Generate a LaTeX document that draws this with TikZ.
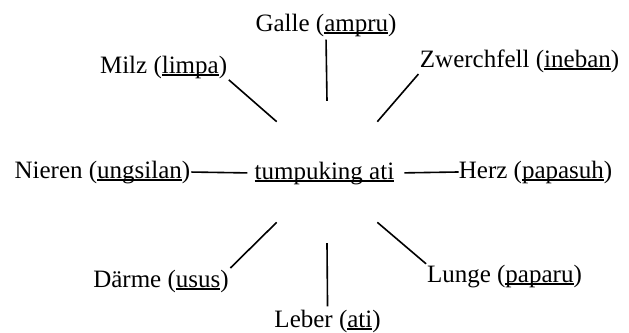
\documentclass[tikz,border=0pt]{standalone}
\usepackage{fontspec}
\setmainfont{Liberation Serif}
\usepackage{tikz}
\usetikzlibrary{shapes.geometric}
% Javanese word: underline at a fixed depth, through the descenders
\newcommand{\jav}[1]{\setbox0\hbox{#1}\rlap{\rule[-0.11em]{\wd0}{0.06em}}\box0}
\tikzset{
  organ/.style   = {font=\fontsize{24.9pt}{30pt}\selectfont, inner sep=0pt,
                    anchor=base, text=black},
  hubtext/.style = {organ},
  ring/.style    = {circle, minimum size=4.97cm, inner sep=0pt},
  spoke/.style   = {draw=black, line width=1.6pt},
}
\begin{document}
\begin{tikzpicture}
  \useasboundingbox (-11.445,6.16) rectangle (10.57,-5.46);

  % ---------- centre -----------------------------------------------------
  \node[ring] (hubring) at (0,0.14) {};
  \node[hubtext] (hub) at (-0.09,-0.105) {\jav{tumpuking ati}};

  % ---------- organs -----------------------------------------------------
  \node[organ] (galle)  at (-0.035, 5.075) {Galle (\jav{ampru})};
  \node[organ] (milz)   at (-5.72,  3.605) {Milz (\jav{limpa})};
  \node[organ] (zwerch) at ( 6.74,  3.815) {Zwerchfell (\jav{ineban})};
  \node[organ] (nieren) at (-7.86, -0.07)  {Nieren (\jav{ungsilan})};
  \node[organ] (herz)   at ( 7.30, -0.07)  {Herz (\jav{papasuh})};
  \node[organ] (darme)  at (-5.81, -3.885) {Därme (\jav{usus})};
  \node[organ] (leber)  at ( 0.02, -5.285) {Leber (\jav{ati})};
  \node[organ] (lunge)  at ( 6.21, -3.71)  {Lunge (\jav{paparu})};

  % ---------- spokes -----------------------------------------------------
  \draw[spoke, shorten <=3pt]  (galle.south)      -- (hubring.north);
  \draw[spoke, shorten <=2pt]  (milz.south east)  -- (hubring.north west);
  \draw[spoke, shorten <=2pt]  (zwerch.south west) -- (hubring.north east);
  \draw[spoke, shorten <=1pt, shorten >=7pt] (nieren.east) -- (hub.west);
  \draw[spoke, shorten <=10pt] (hub.east) -- (herz.west);
  \draw[spoke, shorten >=2pt]  (hubring.south west) -- (darme.north east);
  \draw[spoke, shorten >=3pt]  (hubring.south)      -- (leber.north);
  \draw[spoke, shorten >=1pt]  (hubring.south east) -- (lunge.north west);

\end{tikzpicture}
\end{document}
